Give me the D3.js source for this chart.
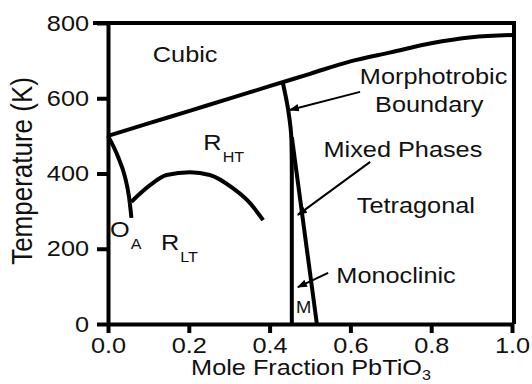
<!DOCTYPE html>
<html>
<head>
<meta charset="utf-8">
<script src="https://cdn.jsdelivr.net/npm/d3@7"></script>
<style>
  html, body { margin: 0; padding: 0; background: #fff; }
  svg { display: block; }
  text { font-family: "Liberation Sans", Arial, Helvetica, sans-serif; fill: #111; }
</style>
</head>
<body>
<svg id="chart" width="532" height="384"></svg>
<script>
// Phase diagram: temperature (K) against mole fraction of PbTiO3
const xTicks = [0, 0.2, 0.4, 0.6, 0.8, 1.0];
const yTicks = [0, 200, 400, 600, 800];

// Cubic (paraelectric) transition line
const cubicX = [0, 0.1, 0.2, 0.3, 0.4, 0.5, 0.6, 0.7, 0.8, 0.9, 1.0];
const cubicT = [500, 533, 566, 599, 632, 665, 698, 722, 746, 762, 768];

// O_A / R_HT boundary
const orthoX = [0, 0.025, 0.042, 0.052, 0.058];
const orthoT = [500, 444, 391, 338, 282];

// R_HT / R_LT boundary
const rhombX = [0.058, 0.104, 0.145, 0.203, 0.252, 0.309, 0.351, 0.384];
const rhombT = [325, 369, 396, 403, 396, 361, 322, 276];

// Morphotropic boundary, rhombohedral side
const mpbX = [0.433, 0.446, 0.454, 0.455, 0.455];
const mpbT = [640, 569, 489, 400, 0];

// Monoclinic / tetragonal side
const monoX = [0.455, 0.517];
const monoT = [497, 0];

const svg = d3.select("#chart");
const x = d3.scaleLinear().domain([0, 1]).range([108, 512]);
const y = d3.scaleLinear().domain([0, 800]).range([324, 23]);
const sx = 1.15; // glyph width factor used for all horizontal text

const pts = (xs, ts) => xs.map((v, i) => [x(v), y(ts[i])]);

// frame (top and right)
svg.append("line").attr("x1", 93).attr("x2", x(1) + 4).attr("y1", y(800)).attr("y2", y(800))
  .attr("stroke", "#000").attr("stroke-width", 4);
svg.append("line").attr("x1", x(1) + 2).attr("x2", x(1) + 2).attr("y1", y(800)).attr("y2", y(0))
  .attr("stroke", "#000").attr("stroke-width", 4);

// axes
const gy = svg.append("g").attr("transform", `translate(${x(0)},0)`)
  .call(d3.axisLeft(y).tickValues(yTicks).tickSize(11).tickSizeOuter(0).tickPadding(8).tickFormat(d3.format("d")));
const gx = svg.append("g").attr("transform", `translate(0,${y(0)})`)
  .call(d3.axisBottom(x).tickValues(xTicks).tickSize(9).tickSizeOuter(0).tickPadding(4).tickFormat(d3.format(".1f")));

[gx, gy].forEach(g => {
  g.select(".domain").attr("stroke", "#000").attr("stroke-width", 4);
  g.selectAll(".tick line").attr("stroke", "#000").attr("stroke-width", 4);
  g.selectAll(".tick text").style("font-size", "22px").attr("fill", "#111");
});
gy.selectAll(".tick text").attr("x", -19 / sx).attr("transform", `scale(${sx},1)`);
gx.selectAll(".tick text").attr("transform", `scale(${sx},1)`);

// axis titles
svg.append("text")
  .attr("transform", `translate(32,171) rotate(-90) scale(1,${sx})`)
  .attr("text-anchor", "middle").style("font-size", "26px")
  .text("Temperature (K)");

const xt = svg.append("text")
  .attr("transform", `translate(${(x(0) + x(1)) / 2 + 1},375) scale(${sx},1)`)
  .attr("text-anchor", "middle").style("font-size", "22px");
xt.append("tspan").text("Mole Fraction PbTiO");
xt.append("tspan").attr("dy", 5).style("font-size", "14px").text("3");

// phase boundaries
const curveLine = (c) => d3.line().curve(c);
const boundaries = [
  { p: pts(cubicX, cubicT), c: d3.curveMonotoneX },
  { p: pts(orthoX, orthoT), c: d3.curveMonotoneX },
  { p: pts(rhombX, rhombT), c: d3.curveMonotoneX },
  { p: pts(mpbX, mpbT), c: d3.curveMonotoneY },
  { p: pts(monoX, monoT), c: d3.curveLinear }
];
svg.append("g").selectAll("path").data(boundaries).join("path")
  .attr("d", d => curveLine(d.c)(d.p))
  .attr("fill", "none").attr("stroke", "#000").attr("stroke-width", 4);

// arrowhead marker
svg.append("defs").append("marker")
  .attr("id", "head").attr("viewBox", "0 -4 10 8")
  .attr("refX", 9).attr("refY", 0)
  .attr("markerUnits", "userSpaceOnUse")
  .attr("markerWidth", 10).attr("markerHeight", 8)
  .attr("orient", "auto")
  .append("path").attr("d", "M0,-3.8L10,0L0,3.8Z").attr("fill", "#000");

const arrows = [
  { from: [0.624, 617], to: [0.450, 569] },
  { from: [0.649, 431], to: [0.470, 290] },
  { from: [0.545, 136], to: [0.470, 98] }
];
svg.append("g").selectAll("line").data(arrows).join("line")
  .attr("x1", d => x(d.from[0])).attr("y1", d => y(d.from[1]))
  .attr("x2", d => x(d.to[0])).attr("y2", d => y(d.to[1]))
  .attr("stroke", "#000").attr("stroke-width", 2)
  .attr("marker-end", "url(#head)");

// region labels
const labels = [
  { t: "Cubic", at: [0.111, 696], anchor: "start" },
  { t: "Morphotrobic", at: [0.806, 638], anchor: "middle" },
  { t: "Boundary", at: [0.795, 563], anchor: "middle" },
  { t: "Mixed Phases", at: [0.730, 444], anchor: "middle" },
  { t: "Tetragonal", at: [0.762, 295], anchor: "middle" },
  { t: "Monoclinic", at: [0.713, 108], anchor: "middle" },
  { t: "M", at: [0.484, 28], anchor: "middle", size: 16 },
  { t: "R", sub: "HT", at: [0.236, 462], anchor: "start" },
  { t: "O", sub: "A", at: [0.005, 231], anchor: "start" },
  { t: "R", sub: "LT", at: [0.131, 197], anchor: "start" }
];
labels.forEach(d => {
  const t = svg.append("text")
    .attr("transform", `translate(${x(d.at[0])},${y(d.at[1])}) scale(${sx},1)`)
    .attr("text-anchor", d.anchor)
    .style("font-size", (d.size || 22) + "px");
  t.append("tspan").text(d.t);
  if (d.sub) t.append("tspan").attr("dx", 1).attr("dy", 12).style("font-size", "14px").text(d.sub);
});
</script>
</body>
</html>
